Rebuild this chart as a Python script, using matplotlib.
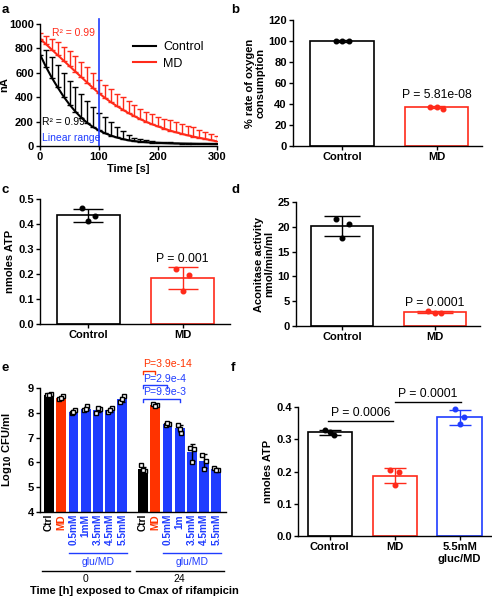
import numpy as np
import matplotlib
matplotlib.use('Agg')
import matplotlib.pyplot as plt
import matplotlib.transforms as mtransforms

plt.rcParams['font.family'] = ['Liberation Sans', 'DejaVu Sans']
plt.rcParams['font.weight'] = 'bold'
plt.rcParams['axes.labelweight'] = 'bold'
plt.rcParams['axes.linewidth'] = 1.0
plt.rcParams['xtick.major.width'] = 1.0
plt.rcParams['ytick.major.width'] = 1.0
plt.rcParams['xtick.major.size'] = 3
plt.rcParams['ytick.major.size'] = 3
plt.rcParams['xtick.labelsize'] = 8
plt.rcParams['ytick.labelsize'] = 8
plt.rcParams['axes.labelsize'] = 8

RED = '#ff2a1a'
RED_E = '#ff3300'
BLUE = '#1f3cff'

# ---- panel a: oxygen trace
t = np.arange(0, 301, 10)
ctrl_mean = [750, 650, 560, 480, 405, 340, 282, 232, 190, 155, 128, 105, 86, 70, 57, 47,
             40, 35, 31, 28, 26, 24, 22, 21, 20, 19, 18, 17, 17, 16, 16]
ctrl_up = [860, 790, 727, 661, 601, 535, 481, 429, 372, 322, 273, 235, 197, 158, 126, 90,
           68, 55, 46, 40, 36, 33, 30, 28, 27, 26, 25, 24, 23, 22, 22]
md_mean = [880, 835, 790, 745, 700, 655, 610, 565, 520, 475, 432, 395, 360, 328, 298, 270,
           244, 220, 198, 178, 160, 143, 127, 113, 100, 88, 77, 67, 58, 48, 38]
md_up = [930, 905, 880, 850, 815, 780, 740, 690, 645, 595, 540, 500, 465, 430, 398, 365,
         335, 305, 280, 260, 240, 225, 210, 196, 182, 168, 152, 135, 118, 100, 80]

# ---- panel b: oxygen consumption
b_mean = [100, 37]
b_sd = [0.5, 1.0]
b_pts = [[100, 100, 100], [37.5, 35.5, 37.3]]

# ---- panel c: ATP
c_mean = [0.435, 0.185]
c_sd = [0.026, 0.045]
c_pts = [[0.463, 0.432, 0.412], [0.22, 0.197, 0.132]]

# ---- panel d: aconitase
d_mean = [20.1, 2.8]
d_sd = [2.0, 0.25]
d_pts = [[21.6, 20.6, 17.8], [3.0, 2.6, 2.7]]

# ---- panel e: CFU
e_labels = ['Ctrl', 'MD', '0.5mM', '1mM', '3.5mM', '4.5mM', '5.5mM',
            'Ctrl', 'MD', '0.5mM', '1m', '3.5mM', '4.5mM', '5.5mM']
e_mean = [8.72, 8.6, 8.05, 8.17, 8.12, 8.12, 8.55,
          5.73, 8.31, 7.55, 7.37, 6.4, 6.05, 5.72]
e_sd = [0.03, 0.05, 0.05, 0.07, 0.1, 0.08, 0.1,
        0.1, 0.03, 0.05, 0.15, 0.33, 0.28, 0.03]
e_pts = [[8.7, 8.76, 8.7], [8.55, 8.66, 8.6], [8.0, 8.12, 8.03], [8.1, 8.26, 8.15],
         [8.0, 8.15, 8.18], [8.04, 8.2, 8.1], [8.45, 8.66, 8.55],
         [5.9, 5.65, 5.68], [8.35, 8.3, 8.28], [7.5, 7.56, 7.6], [7.5, 7.2, 7.35],
         [6.6, 6.56, 6.0], [6.3, 6.05, 5.75], [5.76, 5.7, 5.7]]

# ---- panel f: ATP rescue
f_labels = ['Control', 'MD', '5.5mM\ngluc/MD']
f_mean = [0.321, 0.187, 0.368]
f_sd = [0.008, 0.024, 0.024]
f_pts = [[0.328, 0.313, 0.323], [0.205, 0.2, 0.158], [0.394, 0.369, 0.346]]

W, H = 492, 600
fig = plt.figure(figsize=(4.92, 6.0), dpi=100)


def box(l, r, top, bot):
    return [l / W, (H - bot) / H, (r - l) / W, (bot - top) / H]


def prism(ax):
    ax.spines['top'].set_visible(False)
    ax.spines['right'].set_visible(False)
    ax.tick_params(direction='out', pad=1.5)
    for lab in ax.get_xticklabels() + ax.get_yticklabels():
        lab.set_fontweight('bold')


def bar_panel(ax, means, sds, pts, colors, width, capsize):
    x = np.arange(len(means))
    ax.bar(x, means, width=width, color='white', edgecolor=colors, linewidth=1.2, zorder=2)
    for i in range(len(means)):
        ax.errorbar(x[i], means[i], yerr=sds[i], color=colors[i], capsize=capsize,
                    elinewidth=1.0, capthick=1.0, zorder=3)
        ax.plot(x[i] + np.array([-0.07, 0.07, 0.0]) * width / 0.67, pts[i], 'o',
                color=colors[i], ms=3.3, zorder=4, clip_on=False)


# a
ax = fig.add_axes(box(40, 217, 24, 146))
ax.errorbar(t, ctrl_mean, yerr=[np.zeros(len(t)), np.array(ctrl_up) - ctrl_mean],
            fmt='none', ecolor='black', elinewidth=1.0, capsize=2.2, capthick=1.0)
ax.errorbar(t, md_mean, yerr=[np.zeros(len(t)), np.array(md_up) - md_mean],
            fmt='none', ecolor=RED, elinewidth=1.0, capsize=2.2, capthick=1.0)
ax.plot(t, ctrl_mean, color='black', lw=1.5, label='Control')
ax.plot(t, md_mean, color=RED, lw=1.5, label='MD')
ax.axvline(100, color=BLUE, lw=1.2, ymax=1.04, clip_on=False)
ax.set_xlim(0, 300)
ax.set_ylim(0, 1000)
ax.set_xticks([0, 100, 200, 300])
ax.set_yticks([0, 200, 400, 600, 800, 1000])
ax.set_xlabel('Time [s]', labelpad=1)
ax.set_ylabel('nA')
ax.yaxis.set_label_coords(-0.175, 0.5)
ax.text(20, 930, 'R² = 0.99', color=RED, fontsize=7.5, fontweight='normal', va='center')
ax.text(4, 200, 'R² = 0.99', color='black', fontsize=7.5, fontweight='normal', va='center')
ax.text(3, 68, 'Linear range', color=BLUE, fontsize=7.5, fontweight='normal', va='center')
leg = ax.legend(loc='upper right', bbox_to_anchor=(0.99, 0.95), frameon=False,
                prop={'size': 9, 'weight': 'normal'},
                handlelength=1.8, handletextpad=0.6, labelspacing=0.35)
prism(ax)

# b
ax = fig.add_axes(box(293, 482, 20, 146))
bar_panel(ax, b_mean, b_sd, b_pts, ['black', RED], 0.67, 6)
ax.set_xlim(-0.52, 1.48)
ax.set_ylim(0, 120)
ax.set_yticks(range(0, 121, 20))
ax.set_xticks([0, 1], ['Control', 'MD'])
ax.set_ylabel('% rate of oxygen\nconsumption', labelpad=2, linespacing=1.0)
ax.text(1, 43, 'P = 5.81e-08', ha='center', va='bottom', fontsize=8.8, fontweight='normal')
prism(ax)

# c
ax = fig.add_axes(box(40, 230, 199, 324))
bar_panel(ax, c_mean, c_sd, c_pts, ['black', RED], 0.67, 11)
ax.set_xlim(-0.51, 1.5)
ax.set_ylim(0, 0.5)
ax.set_yticks(np.arange(0, 0.51, 0.1))
ax.set_yticklabels(['0.0', '0.1', '0.2', '0.3', '0.4', '0.5'])
ax.set_xticks([0, 1], ['Control', 'MD'])
ax.set_ylabel('nmoles ATP', labelpad=2)
ax.text(1, 0.236, 'P = 0.001', ha='center', va='bottom', fontsize=8.8, fontweight='normal')
prism(ax)

# d
ax = fig.add_axes(box(296, 480, 202, 326))
bar_panel(ax, d_mean, d_sd, d_pts, ['black', RED], 0.67, 13)
ax.set_xlim(-0.5, 1.49)
ax.set_ylim(0, 25)
ax.set_yticks(range(0, 26, 5))
ax.set_xticks([0, 1], ['Control', 'MD'])
ax.set_ylabel('Aconitase activity\nnmol/min/ml', labelpad=2, linespacing=1.0)
ax.text(1, 3.5, 'P = 0.0001', ha='center', va='bottom', fontsize=8.8, fontweight='normal')
prism(ax)

# e
ax = fig.add_axes(box(40, 226, 388, 512))
xe = np.r_[np.arange(7), np.arange(7) + 7.7]
e_colors = ['black', RED_E] + [BLUE] * 5
e_colors = e_colors + e_colors
ax.bar(xe, np.array(e_mean) - 4, bottom=4, width=0.8, color=e_colors, zorder=2)
for i in range(len(xe)):
    ax.errorbar(xe[i], e_mean[i], yerr=e_sd[i], color='black', capsize=1.8,
                elinewidth=1.0, capthick=1.0, zorder=3)
    ax.plot(xe[i] + np.array([-0.15, 0.15, 0.0]), e_pts[i], 's', mfc='white', mec='black',
            mew=1.0, ms=3.4, zorder=4)
ax.set_xlim(-0.74, 14.5)
ax.set_ylim(4, 9)
ax.set_yticks([4, 5, 6, 7, 8, 9])
ax.set_ylabel('Log$_{10}$ CFU/ml')
ax.yaxis.set_label_coords(-0.14, 0.5)
ax.set_xticks(xe)
ax.set_xticklabels(e_labels, rotation=90, fontweight='normal', fontsize=7.3)
for lab, c in zip(ax.get_xticklabels(), e_colors):
    lab.set_color(c)
ax.tick_params(axis='x', length=0, pad=2)
tr = mtransforms.blended_transform_factory(ax.transData, ax.transAxes)
for g, name in zip([0, 7.7], ['0', '24']):
    ax.plot([g + 1.6, g + 6.4], [-0.33, -0.33], color=BLUE, lw=1.0, transform=tr, clip_on=False)
    ax.text(g + 4, -0.36, 'glu/MD', color=BLUE, ha='center', va='top', fontsize=7.5,
            fontweight='normal', transform=tr)
    ax.plot([g - 0.6, g + 6.6], [-0.476, -0.476], color='black', lw=1.0, transform=tr,
            clip_on=False)
    ax.text(g + 3, -0.5, name, ha='center', va='top', fontsize=7.5, fontweight='normal',
            transform=tr)
ax.text(7, -0.6, 'Time [h] exposed to Cmax of rifampicin', ha='center', va='top',
        fontsize=8, fontweight='bold', transform=tr)
brackets = [(8.7, 9.69, 'P=3.9e-14', RED_E), (9.7, 9.12, 'P=2.9e-4', BLUE),
            (10.7, 8.56, 'P=9.9e-3', BLUE)]
for x2, yb, txt, c in brackets:
    ax.plot([7.7, 7.7, x2, x2], [yb - 0.12, yb, yb, yb - 0.12], color=c, lw=1.0,
            clip_on=False)
    ax.text(7.7, yb + 0.06, txt, color=c, ha='left', va='bottom', fontsize=7.6,
            fontweight='normal')
prism(ax)

# f
ax = fig.add_axes(box(298, 492, 407, 536))
bar_panel(ax, f_mean, f_sd, f_pts, ['black', RED, BLUE], 0.68, 8)
ax.set_xlim(-0.49, 2.5)
ax.set_ylim(0, 0.4)
ax.set_yticks([0, 0.1, 0.2, 0.3, 0.4])
ax.set_yticklabels(['0.0', '0.1', '0.2', '0.3', '0.4'])
ax.set_xticks([0, 1, 2], f_labels)
ax.set_ylabel('nmoles ATP', labelpad=2)
for x1, x2, yb, txt in [(-0.03, 0.98, 0.357, 'P = 0.0006'), (1.0, 2.02, 0.415, 'P = 0.0001')]:
    ax.plot([x1, x2], [yb, yb], color='black', lw=1.0, clip_on=False)
    ax.text((x1 + x2) / 2, yb + 0.006, txt, ha='center', va='bottom', fontsize=8.8,
            fontweight='normal')
prism(ax)

for letter, x, y in [('a', 2, 10), ('b', 231, 10), ('c', 2, 190), ('d', 231, 190),
                     ('e', 2, 368), ('f', 231, 368)]:
    fig.text(x / W, 1 - y / H, letter, fontsize=9.5, fontweight='bold', va='center')

fig.savefig('out.png', dpi=100)
